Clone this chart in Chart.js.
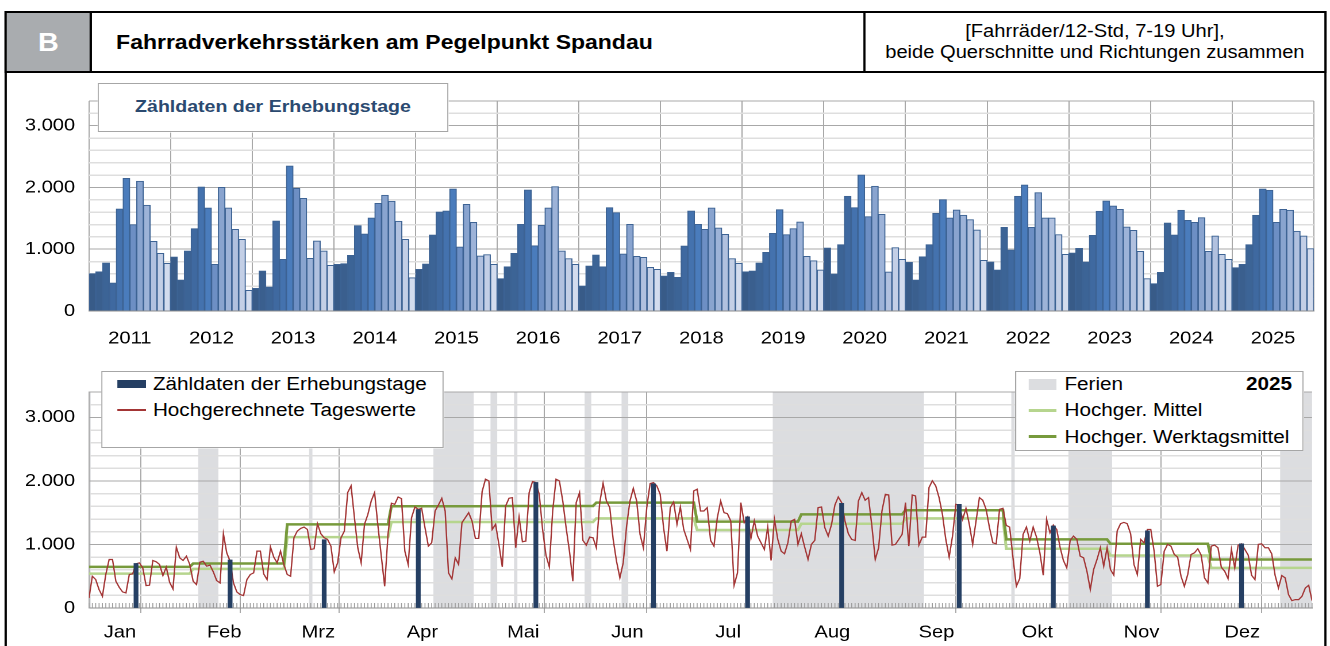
<!DOCTYPE html>
<html lang="de">
<head>
<meta charset="utf-8">
<title>Fahrradverkehrsstärken am Pegelpunkt Spandau</title>
<script src="https://cdn.jsdelivr.net/npm/chart.js@4.4.1/dist/chart.umd.min.js"></script>
<style>
  html, body { margin: 0; padding: 0; background: #fff; }
  body { width: 1330px; height: 646px; overflow: hidden; position: relative; font-family: "Liberation Sans", Arial, sans-serif; }
  /* the original picture is stretched horizontally, so the whole page is drawn narrower and scaled */
  #seite { position: absolute; left: 0; top: 0; width: 1157px; height: 646px; transform: scaleX(1.1495); transform-origin: 0 0; }
  #rahmen { position: absolute; left: 4px; top: 11px; width: 1150px; height: 700px; border: 2px solid #000; box-sizing: border-box; }
  #kopf { position: absolute; left: 4px; top: 11px; width: 1150px; height: 62px; border: 2px solid #000; box-sizing: border-box; display: flex; background: #fff; }
  #kennung { width: 72px; background: #a9acaf; color: #fff; font-weight: bold; font-size: 25px; display: flex; align-items: center; justify-content: center; border-right: 2px solid #000; }
  #titel { width: 673px; font-weight: bold; font-size: 20px; padding-left: 21px; box-sizing: border-box; display: flex; align-items: center; border-right: 2px solid #000; }
  #einheit { flex: 1; text-align: center; font-size: 17.5px; line-height: 21px; display: flex; flex-direction: column; justify-content: center; }
  canvas { position: absolute; left: 0; }
  .legende { position: absolute; background: #fff; border: 1px solid #a6a6a6; box-sizing: border-box; font-size: 18px; color: #000; }
  .legende span { position: absolute; white-space: nowrap; line-height: 20px; }
  .legende i { position: absolute; display: block; }
</style>
</head>
<body>
<div id="seite">
  <div id="rahmen"></div>
  <div id="kopf">
    <div id="kennung">B</div>
    <div id="titel">Fahrradverkehrsstärken am Pegelpunkt Spandau</div>
    <div id="einheit"><div>[Fahrräder/12-Std, 7-19 Uhr],</div><div>beide Querschnitte und Richtungen zusammen</div></div>
  </div>

  <canvas id="oben" width="1157" height="284" style="top:76px;width:1157px;height:284px"></canvas>
  <canvas id="unten" width="1157" height="286" style="top:360px;width:1157px;height:286px"></canvas>

  <div class="legende" style="left:85px;top:83px;width:305px;height:49px;">
    <span style="left:0;width:303px;text-align:center;top:13px;font-weight:bold;font-size:17px;color:#2b4a70;">Zähldaten der Erhebungstage</span>
  </div>

  <div class="legende" style="left:88px;top:371px;width:298px;height:77px;">
    <i style="left:13px;top:8px;width:25px;height:8px;background:#253f63;"></i>
    <span style="left:44px;top:2px;">Zähldaten der Erhebungstage</span>
    <i style="left:13px;top:37px;width:25px;height:1.5px;background:#a33535;"></i>
    <span style="left:44px;top:28px;">Hochgerechnete Tageswerte</span>
  </div>

  <div class="legende" style="left:883px;top:371px;width:251px;height:80px;">
    <i style="left:11px;top:7px;width:24px;height:11px;background:#dcdde0;"></i>
    <span style="left:42px;top:2px;">Ferien</span>
    <span style="right:9px;top:2px;font-weight:bold;">2025</span>
    <i style="left:11px;top:37px;width:24px;height:2.5px;background:#b6d58e;"></i>
    <span style="left:42px;top:28px;">Hochger. Mittel</span>
    <i style="left:11px;top:63px;width:24px;height:2.5px;background:#779a3c;"></i>
    <span style="left:42px;top:55px;">Hochger. Werktagsmittel</span>
  </div>
</div>

<script>
const jahre = ['2011', '2012', '2013', '2014', '2015', '2016', '2017', '2018', '2019', '2020', '2021', '2022', '2023', '2024', '2025'];
const monate = ['Jan', 'Feb', 'Mrz', 'Apr', 'Mai', 'Jun', 'Jul', 'Aug', 'Sep', 'Okt', 'Nov', 'Dez'];
const monatsTage = [31, 28, 31, 30, 31, 30, 31, 31, 30, 31, 30, 31];
const yLabels = ['0', '1.000', '2.000', '3.000'];

// Zähldaten der Erhebungstage, je Jahr Jan..Dez
const zaehl2011 = [605, 637, 778, 454, 1652, 2149, 1399, 2101, 1712, 1129, 934, 772];
const zaehl2012 = [875, 502, 972, 1334, 2009, 1669, 756, 2003, 1669, 1323, 1161, 335];
const zaehl2013 = [367, 648, 389, 1458, 837, 2349, 1987, 1825, 853, 1134, 972, 740];
const zaehl2014 = [756, 767, 902, 1382, 1247, 1507, 1744, 1874, 1777, 1453, 1161, 540];
const zaehl2015 = [675, 761, 1231, 1604, 1620, 1976, 1037, 1728, 1436, 891, 913, 756];
const zaehl2016 = [524, 718, 934, 1404, 1960, 1058, 1388, 1669, 2014, 972, 848, 756];
const zaehl2017 = [405, 729, 907, 718, 1674, 1593, 923, 1404, 886, 869, 707, 675];
const zaehl2018 = [567, 626, 545, 1053, 1620, 1404, 1323, 1669, 1345, 1242, 848, 772];
const zaehl2019 = [637, 648, 778, 950, 1258, 1642, 1237, 1334, 1442, 886, 815, 664];
const zaehl2020 = [1021, 599, 1075, 1858, 1674, 2203, 1528, 2020, 1566, 632, 1026, 837];
const zaehl2021 = [788, 502, 880, 1075, 1582, 1804, 1507, 1636, 1550, 1480, 1312, 821];
const zaehl2022 = [794, 664, 1355, 988, 1858, 2041, 1355, 1917, 1507, 1507, 1237, 918];
const zaehl2023 = [940, 1015, 794, 1226, 1615, 1782, 1701, 1647, 1361, 1307, 967, 524];
const zaehl2024 = [443, 626, 1426, 1231, 1631, 1469, 1436, 1512, 967, 1215, 918, 837];
const zaehl2025 = [702, 756, 1075, 1550, 1976, 1955, 1436, 1647, 1631, 1291, 1215, 1010];
const zaehlJahre = [zaehl2011, zaehl2012, zaehl2013, zaehl2014, zaehl2015, zaehl2016, zaehl2017, zaehl2018,
  zaehl2019, zaehl2020, zaehl2021, zaehl2022, zaehl2023, zaehl2024, zaehl2025];

// 2025: Tag im Jahr (0 = 1. Jan) der Erhebungstage
const zaehltage = [14, 42, 70, 98, 133, 168, 196, 224, 259, 287, 315, 343];

// hochgerechnete Tageswerte 2025
const tageJan = [158, 500, 448, 290, 184, 527, 764, 764, 421, 326, 253, 237, 527, 537, 695, 711, 632, 353, 358, 748, 727, 685, 511, 642, 405, 300, 958, 790, 748, 816, 685];
const tageFeb = [421, 369, 721, 737, 658, 674, 569, 432, 395, 1169, 869, 737, 395, 253, 211, 195, 448, 527, 553, 895, 895, 537, 448, 964, 800, 711, 895, 685];
const tageMrz = [527, 500, 1106, 1211, 1253, 1274, 1237, 922, 932, 1327, 1169, 1106, 1080, 974, 569, 711, 1106, 1211, 1817, 1922, 1422, 948, 711, 1317, 1474, 1685, 1817, 1290, 816, 342, 1159];
const tageApr = [1650, 1632, 1748, 1722, 895, 685, 1422, 1590, 1553, 1569, 1264, 974, 1027, 1527, 1622, 1727, 1527, 553, 458, 790, 685, 1343, 1422, 1501, 1369, 1095, 1095, 1833, 2027, 2001];
const tageMai = [1237, 1317, 1001, 648, 1606, 1727, 1738, 948, 1432, 1043, 1053, 1817, 1991, 1975, 1790, 1237, 832, 648, 1527, 2027, 2001, 1685, 1264, 895, 421, 1659, 1817, 1064, 990, 1116, 1106];
const tageJun = [948, 1659, 1964, 1685, 1580, 1080, 737, 474, 711, 1290, 1685, 1885, 1685, 1159, 948, 1580, 1959, 1975, 1922, 1790, 1264, 895, 1580, 1669, 1317, 1590, 1237, 1080, 922, 1843];
const tageJul = [1870, 1527, 1527, 1580, 1064, 974, 1422, 1685, 1501, 1485, 1369, 358, 553, 1659, 1343, 1432, 1095, 1369, 1132, 1027, 922, 1274, 748, 1395, 1080, 895, 853, 1027, 1369, 1395, 1001];
const tageAug = [1169, 958, 764, 1001, 1064, 1580, 1590, 1264, 1132, 1317, 1622, 1748, 1659, 1369, 1169, 1080, 1064, 1685, 1817, 1696, 1738, 1290, 764, 948, 1527, 1790, 1780, 990, 1001, 1080, 1159];
const tageSep = [1659, 974, 1780, 1764, 990, 1116, 1116, 1896, 2001, 1922, 1738, 1474, 1080, 800, 1132, 1632, 1622, 1395, 1569, 1317, 1001, 1369, 1738, 1696, 1553, 1264, 1027, 1011, 1553, 1569];
const tageOkt = [1300, 1274, 790, 342, 463, 1159, 1274, 1053, 1274, 1116, 869, 516, 1395, 1185, 1306, 1237, 958, 748, 632, 1064, 1132, 1080, 816, 790, 579, 290, 606, 764, 948, 658, 948];
const tageNov = [606, 516, 1211, 1327, 1348, 1327, 1169, 685, 527, 1080, 1027, 1237, 1237, 895, 342, 369, 895, 1001, 974, 843, 800, 500, 342, 527, 843, 869, 932, 832, 474, 395];
const tageDez = [974, 990, 948, 642, 579, 463, 922, 632, 990, 1011, 922, 832, 516, 448, 1001, 1011, 948, 948, 853, 516, 316, 511, 474, 211, 116, 132, 132, 184, 316, 358, 116];

// Monatsmittel 2025
const mittel = [542, 616, 1116, 1353, 1353, 1411, 1227, 1327, 1411, 932, 827, 632];
const werktagsmittel = [648, 700, 1317, 1601, 1606, 1659, 1359, 1474, 1538, 1080, 1011, 764];

// Ferien und freie Tage 2025 (Tag im Jahr, von/bis)
const ferienVon = [0, 33, 66, 103, 120, 127, 148, 159, 204, 275, 292, 355];
const ferienBis = [0, 38, 66, 114, 121, 127, 149, 160, 248, 275, 304, 364];

const balkenFarben = ['#385b88', '#3a5f8e', '#3c6496', '#3f69a0', '#4472ae', '#4a7cbc',
  '#6d8fc4', '#89a4cf', '#9db3d8', '#b1c1df', '#c3cfe6', '#d3dcee'];

Chart.defaults.font.family = "'Liberation Sans', Arial, sans-serif";
Chart.defaults.color = '#000';

const schrift = { size: 17.5 };
const yTickText = v => v % 1000 === 0 ? yLabels[v / 1000] : '';
const yGridFarbe = c => (c.tick && (c.tick.value % 1000 === 0 || c.tick.value === 3400)) ? '#a8a8a8' : '#dedede';
const yGridBreite = c => (c.tick && (c.tick.value % 1000 === 0 || c.tick.value === 3400)) ? 1 : 1.5;

// obere Grafik: 180 Monatsbalken
const labelsOben = [];
const werteOben = [];
const farbenOben = [];
jahre.forEach((j, ji) => {
  zaehlJahre[ji].forEach((v, m) => {
    labelsOben.push(j + ' ' + monate[m]);
    werteOben.push(v);
    farbenOben.push(balkenFarben[m]);
  });
});

new Chart(document.getElementById('oben'), {
  type: 'bar',
  data: {
    labels: labelsOben,
    datasets: [{
      data: werteOben,
      backgroundColor: farbenOben,
      borderColor: '#3d6394',
      borderWidth: 1,
      categoryPercentage: 1,
      barPercentage: 1
    }]
  },
  options: {
    responsive: false,
    animation: false,
    devicePixelRatio: 2,
    layout: { padding: { top: 25, right: 13, left: 0, bottom: 0 } },
    plugins: { legend: { display: false }, tooltip: { enabled: false } },
    scales: {
      x: {
        grid: {
          offset: true,
          drawTicks: false,
          color: c => (c.index === undefined || c.index % 12 === 0) ? '#a8a8a8' : 'rgba(0,0,0,0)'
        },
        border: { color: '#8c8c8c' },
        ticks: {
          autoSkip: false, maxRotation: 0, minRotation: 0,
          padding: 17, labelOffset: 3, font: schrift,
          callback: (v, i) => i % 12 === 5 ? jahre[Math.floor(i / 12)] : ''
        },
        afterFit: s => { s.height = 49; }
      },
      y: {
        min: 0, max: 3400,
        ticks: { stepSize: 200, autoSkip: false, padding: 12, font: schrift, callback: yTickText },
        grid: { color: yGridFarbe, lineWidth: yGridBreite, drawTicks: false },
        border: { display: false },
        afterFit: s => { s.width = 77.4; }
      }
    }
  }
});

// untere Grafik: Tageswerte 2025
const tageswerte = [].concat(tageJan, tageFeb, tageMrz, tageApr, tageMai, tageJun, tageJul, tageAug, tageSep, tageOkt, tageNov, tageDez);
const monatsStart = [];
const monatVonTag = [];
monatsTage.forEach((n, m) => {
  monatsStart.push(monatVonTag.length);
  for (let i = 0; i < n; i++) monatVonTag.push(m);
});

const inFerien = d => ferienVon.some((von, i) => d >= von && d <= ferienBis[i]);

const ferienPlugin = {
  id: 'ferien',
  beforeDraw(chart) {
    const { ctx, chartArea: a, scales: { x } } = chart;
    ctx.save();
    ctx.fillStyle = '#dcdde0';
    ferienVon.forEach((von, i) => {
      const l = Math.max(a.left, x.getPixelForValue(von - 0.5));
      const r = Math.min(a.right, x.getPixelForValue(ferienBis[i] + 0.5));
      ctx.fillRect(l, a.top, r - l, a.bottom - a.top);
    });
    ctx.restore();
  },
  beforeDatasetsDraw(chart) {
    // kleine Tagesstriche am unteren Rand
    const { ctx, chartArea: a, scales: { x } } = chart;
    ctx.save();
    ctx.strokeStyle = '#9a9a9a';
    ctx.lineWidth = 0.8;
    ctx.beginPath();
    for (let d = 0; d < tageswerte.length; d++) {
      const px = x.getPixelForValue(d);
      ctx.moveTo(px, a.bottom);
      ctx.lineTo(px, a.bottom - 5);
    }
    ctx.stroke();
    ctx.restore();
  }
};

new Chart(document.getElementById('unten'), {
  type: 'line',
  data: {
    datasets: [
      {
        type: 'bar',
        label: 'Zähldaten der Erhebungstage',
        data: zaehltage.map((d, i) => ({ x: d, y: zaehl2025[i] })),
        backgroundColor: '#253f63',
        barThickness: 3.5,
        order: 0
      },
      {
        label: 'Hochgerechnete Tageswerte',
        data: tageswerte.map((v, d) => ({ x: d, y: v })),
        borderColor: '#a33535',
        borderWidth: 1.2,
        pointRadius: 0,
        order: 1
      },
      {
        label: 'Hochger. Werktagsmittel',
        data: tageswerte.map((v, d) => ({ x: d, y: werktagsmittel[monatVonTag[d]] })),
        borderColor: '#779a3c',
        borderWidth: 2.5,
        pointRadius: 0,
        order: 2
      },
      {
        label: 'Hochger. Mittel',
        data: tageswerte.map((v, d) => ({ x: d, y: mittel[monatVonTag[d]] })),
        borderColor: '#b6d58e',
        borderWidth: 2.5,
        pointRadius: 0,
        order: 3
      }
    ]
  },
  plugins: [ferienPlugin],
  options: {
    responsive: false,
    animation: false,
    devicePixelRatio: 2,
    layout: { padding: { top: 32, right: 15.6, left: 0, bottom: 0 } },
    plugins: { legend: { display: false }, tooltip: { enabled: false } },
    scales: {
      x: {
        type: 'linear',
        min: 0, max: 364,
        offset: false,
        afterBuildTicks: s => { s.ticks = monatsStart.concat([364]).map(v => ({ value: v })); },
        grid: {
          tickLength: 5,
          color: c => (c.tick && c.tick.value > 0 && c.tick.value < 364 && inFerien(c.tick.value)) ? 'rgba(0,0,0,0)' : '#a8a8a8'
        },
        border: { color: '#8c8c8c' },
        ticks: {
          autoSkip: false, maxRotation: 0, minRotation: 0,
          padding: 9, labelOffset: 27, font: schrift,
          callback: (v, i) => monate[i] || ''
        },
        afterFit: s => { s.height = 38; }
      },
      y: {
        min: 0, max: 3400,
        ticks: { stepSize: 200, autoSkip: false, padding: 12, font: schrift, callback: yTickText },
        grid: { color: yGridFarbe, lineWidth: yGridBreite, drawTicks: false },
        border: { color: '#a8a8a8' },
        afterFit: s => { s.width = 77.4; }
      }
    }
  }
});
</script>
</body>
</html>
